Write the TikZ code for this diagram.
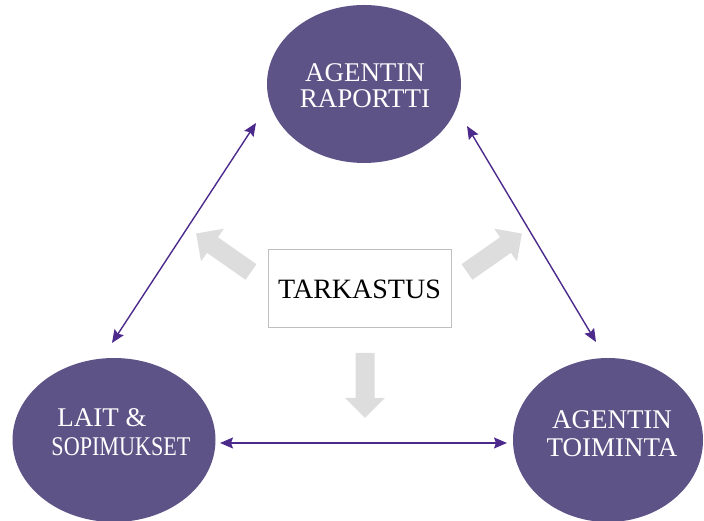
\documentclass[tikz,border=0pt]{standalone}
\usepackage{fontspec}
\usepackage{graphicx}
\setmainfont{Liberation Serif}
\usetikzlibrary{arrows.meta,shapes.geometric}
\definecolor{ellfill}{RGB}{94,83,135}
\definecolor{linepurple}{RGB}{76,42,140}
\definecolor{blockgray}{RGB}{221,221,221}
\definecolor{boxgray}{RGB}{190,190,190}
\tikzset{
  ellnode/.style={ellipse, fill=ellfill, text=white, inner sep=0pt,
    font=\fontsize{27}{26}\selectfont},
  elltext/.style={text=white, inner sep=0pt, font=\fontsize{27}{27}\selectfont},
  boxnode/.style={rectangle, draw=boxgray, line width=1pt, fill=white,
    font=\fontsize{28}{28}\selectfont, inner sep=0pt},
  link/.style={draw=linepurple, line width=1.4pt,
    {Stealth[length=13pt,width=11pt,inset=2pt]}-{Stealth[length=13pt,width=11pt,inset=2pt]}},
  blockarrow/.style={fill=blockgray, draw=none}
}
\begin{document}
\begin{tikzpicture}[x=1pt,y=1pt]
\useasboundingbox (0,0) rectangle (704,521);
% ellipses
\node[ellnode, minimum width=194, minimum height=158, align=center] (top) at (364,437) {};
\node[elltext, align=center, font=\fontsize{27}{26}\selectfont] (toptext) at (365,435) {AGENTIN\\RAPORTTI};
\node[ellnode, minimum width=203, minimum height=164] (left) at (114,81) {};
\node[ellnode, minimum width=190, minimum height=164] (right) at (608,81) {};
\node[elltext, align=left, font=\fontsize{27}{29}\selectfont] (lefttext) at (121,88.5) {\hspace*{6pt}LAIT \&\\\scalebox{0.82}[1]{SOPIMUKSET}};
\node[elltext, align=center, font=\fontsize{27}{28}\selectfont] (righttext) at (612,87) {AGENTIN\\TOIMINTA};
% center box
\node[boxnode, minimum width=183, minimum height=78] (box) at (359.5,232) {TARKASTUS};
% block arrows
\fill[blockarrow, shift={(365,168)}, rotate=-90]
  (0,-9.5) -- (45,-9.5) -- (45,-20) -- (65,0) -- (45,20) -- (45,9.5) -- (0,9.5) -- cycle;
\fill[blockarrow, shift={(251,249)}, rotate=145]
  (0,-9.5) -- (47,-9.5) -- (47,-20) -- (67,0) -- (47,20) -- (47,9.5) -- (0,9.5) -- cycle;
\fill[blockarrow, shift={(467,249)}, rotate=35]
  (0,-9.5) -- (47,-9.5) -- (47,-20) -- (67,0) -- (47,20) -- (47,9.5) -- (0,9.5) -- cycle;
% connector ends
\coordinate (tl) at (256,398);
\coordinate (lt) at (112,178);
\coordinate (tr) at (467,395);
\coordinate (rt) at (596,179);
\coordinate (lr) at (220,78);
\coordinate (rl) at (507,78);
\draw[link] (tl) -- (lt);
\draw[link] (tr) -- (rt);
\draw[link] (lr) -- (rl);
\end{tikzpicture}
\end{document}
